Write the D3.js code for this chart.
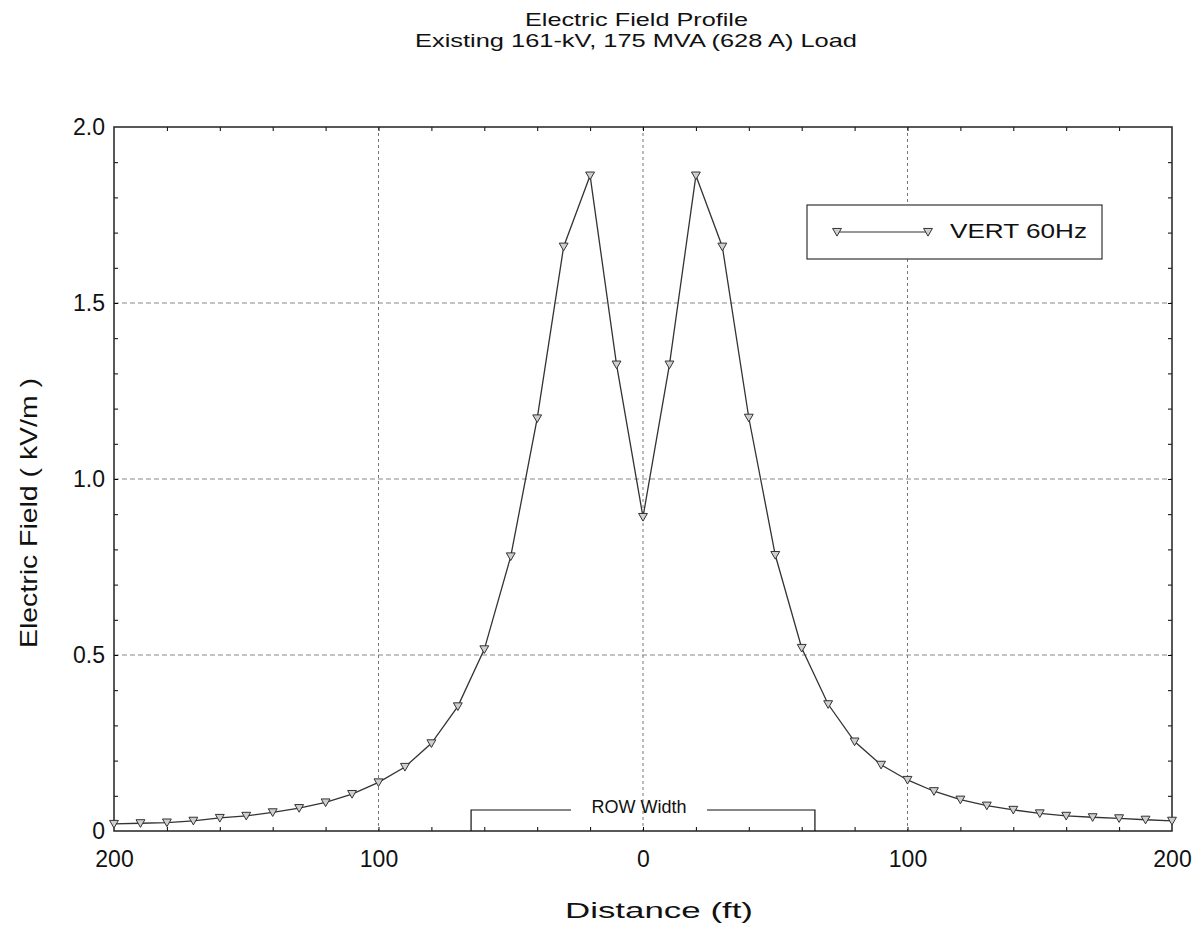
<!DOCTYPE html>
<meta charset="utf-8">
<script src="https://d3js.org/d3.v7.min.js"></script>
<style>
  body { margin: 0; background: #fff; }
  text { font-family: Arial, "Liberation Sans", sans-serif; fill: #111; }
</style>
<div id="chart"></div>
<script>
// distance from centerline (ft) and vertical field (kV/m)
var distance = [-200, -190, -180, -170, -160, -150, -140, -130, -120, -110, -100,
  -90, -80, -70, -60, -50, -40, -30, -20, -10, 0, 10, 20, 30, 40, 50, 60, 70, 80, 90,
  100, 110, 120, 130, 140, 150, 160, 170, 180, 190, 200];
var field = [0.020, 0.022, 0.024, 0.029, 0.037, 0.043, 0.053, 0.065, 0.081, 0.105, 0.138,
  0.182, 0.249, 0.354, 0.516, 0.780, 1.172, 1.660, 1.862, 1.325, 0.892, 1.325, 1.862, 1.660, 1.174, 0.784, 0.520, 0.360, 0.254, 0.188,
  0.145, 0.113, 0.089, 0.072, 0.060, 0.050, 0.043, 0.039, 0.036, 0.032, 0.029];
var xTicks = [-200, -100, 0, 100, 200];
var yTicks = [0, 0.5, 1.0, 1.5, 2.0];
var rowEdges = [-65, 65];
var seriesName = "VERT 60Hz";

var W = 1204, H = 936;
var margin = {top: 127, right: 32, bottom: 105, left: 114};
var width = W - margin.left - margin.right,
    height = H - margin.top - margin.bottom;

var svg = d3.select("#chart").append("svg")
    .attr("width", W)
    .attr("height", H);

var g = svg.append("g")
    .attr("transform", "translate(" + margin.left + "," + margin.top + ")");

var x = d3.scaleLinear().domain([-200, 200]).range([0, width]);
var y = d3.scaleLinear().domain([0, 2]).range([height, 0]);

// titles (the scan is stretched sideways, so fit the widths)
svg.append("text").attr("x", 525).attr("y", 26)
  .attr("textLength", 223).attr("lengthAdjust", "spacingAndGlyphs")
  .style("font-size", "18.5px").text("Electric Field Profile");
svg.append("text").attr("x", 415).attr("y", 47)
  .attr("textLength", 442).attr("lengthAdjust", "spacingAndGlyphs")
  .style("font-size", "18.5px").text("Existing 161-kV, 175 MVA (628 A) Load");

// grid
g.selectAll(".vgrid").data(xTicks.slice(1, -1)).enter().append("line")
  .attr("x1", function(d) { return x(d); }).attr("x2", function(d) { return x(d); })
  .attr("y1", 0).attr("y2", height)
  .attr("stroke", "#777").attr("stroke-width", 1).attr("stroke-dasharray", "3,3");
g.selectAll(".hgrid").data(yTicks.slice(1, -1)).enter().append("line")
  .attr("x1", 0).attr("x2", width)
  .attr("y1", function(d) { return y(d); }).attr("y2", function(d) { return y(d); })
  .attr("stroke", "#888").attr("stroke-width", 1).attr("stroke-dasharray", "5,3");

// minor inward ticks
var minorX = d3.range(-180, 200, 20);
var minorY = d3.range(0.1, 2.0, 0.1);
g.append("g").call(d3.axisBottom(x).tickValues(minorX).tickSize(-4).tickFormat(""))
  .attr("transform", "translate(0," + height + ")").call(function(s) { s.select(".domain").remove(); });
g.append("g").call(d3.axisTop(x).tickValues(minorX).tickSize(-4).tickFormat(""))
  .call(function(s) { s.select(".domain").remove(); });
g.append("g").call(d3.axisLeft(y).tickValues(minorY).tickSize(-4).tickFormat(""))
  .call(function(s) { s.select(".domain").remove(); });
g.append("g").call(d3.axisRight(y).tickValues(minorY).tickSize(-4).tickFormat(""))
  .attr("transform", "translate(" + width + ",0)").call(function(s) { s.select(".domain").remove(); });

// major labels
var xAxis = g.append("g").attr("transform", "translate(0," + height + ")")
  .call(d3.axisBottom(x).tickValues(xTicks).tickSize(0).tickPadding(20)
    .tickFormat(function(d) { return Math.abs(d); }));
xAxis.select(".domain").remove();
xAxis.selectAll("text").style("font-size", "23px").attr("fill", "#111");

var yAxis = g.append("g")
  .call(d3.axisLeft(y).tickValues(yTicks).tickSize(0).tickPadding(9)
    .tickFormat(function(d) { return d === 0 ? "0" : d3.format(".1f")(d); }));
yAxis.select(".domain").remove();
yAxis.selectAll("text").style("font-size", "23px").attr("fill", "#111");

// frame
g.append("rect").attr("width", width).attr("height", height)
  .attr("fill", "none").attr("stroke", "#222").attr("stroke-width", 1.5);

// axis titles
svg.append("text").attr("x", 565).attr("y", 918)
  .attr("textLength", 188).attr("lengthAdjust", "spacingAndGlyphs")
  .style("font-size", "22px").text("Distance (ft)");
svg.append("text").attr("transform", "translate(37,648) rotate(-90)")
  .attr("textLength", 270).attr("lengthAdjust", "spacingAndGlyphs")
  .style("font-size", "24px").text("Electric Field ( kV/m )");

// ROW width bracket
var bTop = height - 21;
var labelX = (x(rowEdges[0]) + x(rowEdges[1])) / 2 - 4;
g.append("path")
  .attr("d", "M" + x(rowEdges[0]) + "," + height + "V" + bTop + "H" + (labelX - 68))
  .attr("fill", "none").attr("stroke", "#111").attr("stroke-width", 1.2);
g.append("path")
  .attr("d", "M" + (labelX + 68) + "," + bTop + "H" + x(rowEdges[1]) + "V" + height)
  .attr("fill", "none").attr("stroke", "#111").attr("stroke-width", 1.2);
g.append("text").attr("x", labelX).attr("y", bTop + 3).attr("text-anchor", "middle")
  .style("font-size", "18px").text("ROW Width");

// series
var pts = distance.map(function(d, i) { return {x: d, y: field[i]}; });
var line = d3.line().x(function(d) { return x(d.x); }).y(function(d) { return y(d.y); });
g.append("path").datum(pts).attr("d", line)
  .attr("fill", "none").attr("stroke", "#333").attr("stroke-width", 1.3);

var tri = d3.symbol().type(d3.symbolTriangle).size(34);
g.selectAll(".mk").data(pts).enter().append("path")
  .attr("d", tri)
  .attr("transform", function(d) { return "translate(" + x(d.x) + "," + (y(d.y) - 1) + ") rotate(180)"; })
  .attr("fill", "#cfcfcf").attr("stroke", "#333").attr("stroke-width", 1);

// legend
var leg = svg.append("g").attr("transform", "translate(807,205)");
leg.append("rect").attr("width", 295).attr("height", 54)
  .attr("fill", "#fff").attr("stroke", "#333").attr("stroke-width", 1.2);
leg.append("line").attr("x1", 30).attr("x2", 121).attr("y1", 27).attr("y2", 27)
  .attr("stroke", "#333").attr("stroke-width", 1.2);
[30, 121].forEach(function(px) {
  leg.append("path").attr("d", tri)
    .attr("transform", "translate(" + px + ",26) rotate(180)")
    .attr("fill", "#cfcfcf").attr("stroke", "#333").attr("stroke-width", 1);
});
leg.append("text").attr("x", 143).attr("y", 33)
  .attr("textLength", 137).attr("lengthAdjust", "spacingAndGlyphs")
  .style("font-size", "20px").text(seriesName);
</script>
